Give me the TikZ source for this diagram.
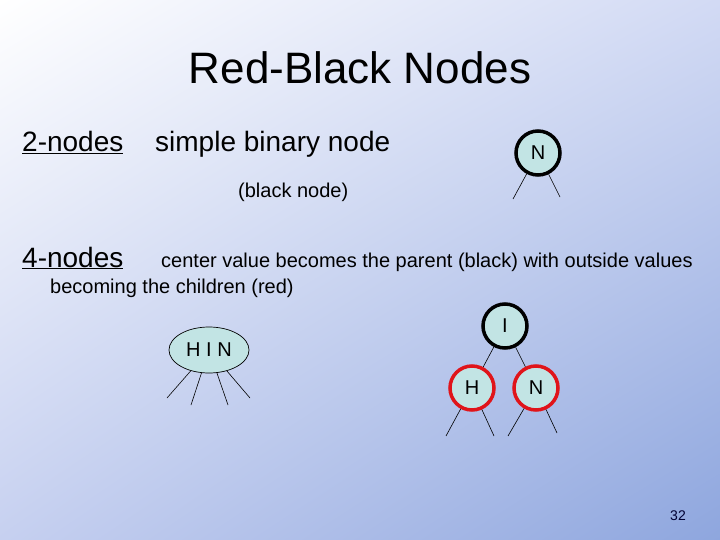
\documentclass[tikz,border=0pt]{standalone}
\usepackage{fontspec}
\setmainfont{Liberation Sans}
\usepackage{tikz}
\usetikzlibrary{shapes.geometric,shadings,positioning,calc}
\definecolor{nodefill}{HTML}{C2E4E4}
\definecolor{rbred}{HTML}{E0141A}
\definecolor{bgtl}{HTML}{FFFFFF}
\definecolor{bgtr}{HTML}{D2DAF4}
\definecolor{bgbl}{HTML}{C6D0F0}
\definecolor{bgbr}{HTML}{8EA6DE}

\begin{document}
\begin{tikzpicture}[
    x=1pt, y=-1pt,
    rb/.style={circle, draw=#1, line width=3.5pt, fill=nodefill, minimum size=44pt, inner sep=0pt, font=\fontsize{20}{22}\selectfont},
    txt/.style={inner sep=0pt, anchor=base west, font=\fontsize{#1}{#1}\selectfont},
    leg/.style={line width=0.6pt}
]
    % background
    \shade[upper left=bgtl, upper right=bgtr, lower left=bgbl, lower right=bgbr] (0,0) rectangle (720,540);
    \useasboundingbox (0,0) rectangle (720,540);

    % Title
    \node[inner sep=0pt, font=\fontsize{44}{44}\selectfont] (title) at (360,68) {Red-Black Nodes};

    % 2-nodes
    \node[txt=28] (two) at (22,152) {\underline{2-nodes}};
    \node[txt=28] (simple) at (155,152) {simple binary node};
    \node[txt=20] (blk) at (238,197) {(black node)};

    \node[rb=black] (n) at (538,153) {N};
    \coordinate (nl) at (513,199);
    \coordinate (nr) at (560,197);
    \draw[leg] (n) -- (nl);
    \draw[leg] (n) -- (nr);

    % 4-nodes
    \node[txt=28] (four) at (22,267) {\underline{4-nodes}};
    \node[txt=20] (center) at (161,267) {center value becomes the parent (black) with outside values};
    \node[txt=20] (becoming) at (50,293) {becoming the children (red)};

    \node[ellipse, draw, fill=nodefill, line width=0.7pt, minimum width=80pt, minimum height=46pt, inner sep=0pt, font=\fontsize{20}{22}\selectfont] (hin) at (209,350) {H I N};
    \coordinate (hin1) at (167,398);
    \coordinate (hin2) at (191,405);
    \coordinate (hin3) at (228,405);
    \coordinate (hin4) at (250,398);
    \foreach \c in {hin1,hin2,hin3,hin4}
        \draw[leg] (hin) -- (\c);

    % split into red children
    \node[rb=black] (i) at (505,326) {I};
    \node[rb=rbred] (h) at (472,388) {H};
    \node[rb=rbred] (n2) at (536,388) {N};
    \draw[leg] (i) -- (h);
    \draw[leg] (i) -- (n2);
    \coordinate (hl) at (446,436);
    \coordinate (hr) at (494,436);
    \coordinate (n2l) at (508,436);
    \coordinate (n2r) at (557,433);
    \draw[leg] (h) -- (hl);
    \draw[leg] (h) -- (hr);
    \draw[leg] (n2) -- (n2l);
    \draw[leg] (n2) -- (n2r);

    % page number
    \node[inner sep=0pt, anchor=base, text=black!80!blue, font=\fontsize{14}{14}\selectfont] (page) at (678,520) {32};
\end{tikzpicture}
\end{document}
